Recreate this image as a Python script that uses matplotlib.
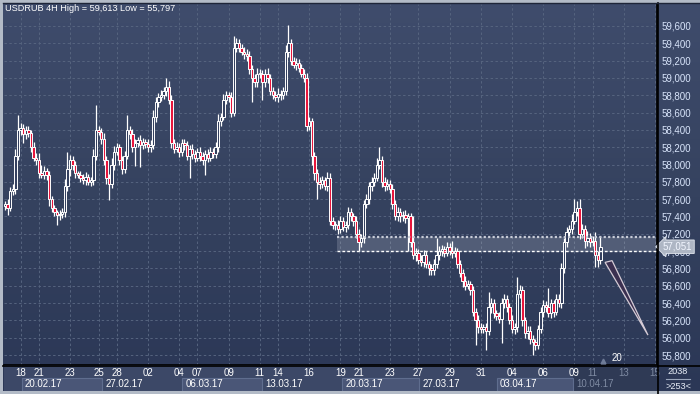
import numpy as np
import matplotlib.pyplot as plt
from matplotlib.patches import Rectangle, Polygon
from matplotlib.lines import Line2D
from matplotlib.colors import LinearSegmentedColormap
import matplotlib.transforms as mtransforms

# 4H closes, USDRUB (rubles), one per candle
closes = [
    57.55, 57.50, 57.70, 57.72, 58.10, 58.40, 58.42, 58.35, 58.40, 58.36,
    58.20, 58.08, 58.05, 57.90, 57.88, 57.92, 57.88, 57.60, 57.50, 57.45,
    57.42, 57.43, 57.45, 57.75, 57.95, 58.05, 58.00, 57.90, 57.88, 57.85,
    57.82, 57.86, 57.80, 57.82, 58.10, 58.40, 58.38, 58.30, 58.05, 57.85,
    57.78, 58.00, 58.15, 58.20, 58.05, 57.95, 58.10, 58.40, 58.35, 58.20,
    58.25, 58.28, 58.22, 58.26, 58.24, 58.20, 58.22, 58.55, 58.72, 58.78,
    58.80, 58.85, 58.90, 58.75, 58.25, 58.18, 58.20, 58.15, 58.25, 58.22,
    58.10, 58.18, 58.12, 58.08, 58.15, 58.10, 58.05, 58.12, 58.08, 58.15,
    58.12, 58.20, 58.50, 58.55, 58.75, 58.80, 58.78, 58.60, 59.35, 59.40,
    59.35, 59.30, 59.28, 59.25, 59.10, 59.00, 58.95, 59.05, 59.05, 58.95,
    59.05, 59.00, 58.85, 58.80, 58.78, 58.82, 58.80, 58.85, 59.30, 59.40,
    59.20, 59.15, 59.17, 59.12, 59.05, 59.00, 58.45, 58.50, 58.10, 57.90,
    57.80, 57.78, 57.82, 57.75, 57.85, 57.35, 57.30, 57.30, 57.25, 57.35,
    57.28, 57.30, 57.45, 57.40, 57.35, 57.20, 57.10, 57.15, 57.55, 57.60,
    57.75, 57.80, 57.85, 58.00, 58.05, 57.80, 57.75, 57.78, 57.72, 57.55,
    57.40, 57.45, 57.40, 57.42, 57.38, 57.40, 57.10, 56.95, 56.98, 56.90,
    56.88, 56.95, 56.85, 56.80, 56.78, 56.85, 56.95, 57.00, 57.02, 56.98,
    57.05, 57.00, 56.98, 57.00, 56.85, 56.75, 56.65, 56.60, 56.62, 56.55,
    56.30, 56.20, 56.12, 56.10, 56.12, 56.08, 56.35, 56.40, 56.28, 56.25,
    56.22, 56.40, 56.45, 56.35, 56.20, 56.10, 56.12, 56.50, 56.55, 56.20,
    56.05, 56.08, 55.98, 55.95, 55.92, 56.10, 56.30, 56.38, 56.35, 56.28,
    56.40, 56.30, 56.45, 56.40, 56.80, 57.10, 57.22, 57.25, 57.35, 57.45,
    57.50, 57.20, 57.25, 57.12, 57.15, 57.10, 57.12, 56.95, 56.90, 57.051,
]
first_open = 57.52

# wick lengths above / below the body, in kopecks
wick_up = [
    3, 5, 4, 6, 8, 17, 6, 5, 4, 5,
    4, 6, 5, 8, 10, 6, 4, 5, 4, 3,
    3, 4, 5, 8, 20, 6, 5, 4, 3, 5,
    4, 5, 3, 4, 8, 29, 5, 4, 6, 5,
    4, 8, 6, 5, 4, 5, 6, 17, 5, 6,
    5, 4, 6, 5, 4, 5, 6, 8, 6, 5,
    6, 5, 10, 6, 5, 4, 6, 5, 4, 5,
    5, 4, 6, 5, 4, 5, 4, 5, 6, 5,
    4, 6, 8, 5, 6, 5, 4, 6, 13, 6,
    5, 4, 6, 5, 6, 5, 4, 6, 5, 4,
    5, 6, 5, 4, 5, 6, 4, 5, 8, 21,
    5, 4, 6, 5, 4, 5, 6, 5, 4, 5,
    5, 6, 5, 4, 6, 5, 4, 5, 6, 5,
    4, 5, 6, 5, 4, 5, 6, 5, 4, 6,
    5, 6, 5, 8, 15, 5, 6, 5, 4, 5,
    4, 6, 5, 4, 5, 4, 4, 30, 6, 5,
    5, 6, 5, 4, 5, 6, 20, 6, 5, 4,
    5, 4, 12, 5, 4, 5, 4, 6, 5, 4,
    5, 4, 6, 5, 4, 5, 18, 6, 5, 4,
    5, 6, 5, 4, 5, 6, 5, 20, 6, 5,
    4, 5, 6, 5, 4, 5, 6, 5, 4, 22,
    5, 4, 6, 5, 6, 5, 6, 5, 8, 15,
    8, 10, 6, 5, 8, 6, 5, 10, 5, 12,
]
wick_dn = [
    5, 8, 4, 5, 6, 5, 6, 10, 5, 4,
    5, 4, 6, 5, 4, 5, 6, 8, 5, 4,
    12, 6, 5, 6, 5, 8, 6, 5, 4, 5,
    5, 6, 4, 5, 6, 5, 4, 6, 5, 8,
    19, 5, 6, 4, 5, 6, 5, 4, 6, 5,
    22, 5, 25, 4, 5, 6, 5, 4, 6, 5,
    5, 4, 6, 5, 6, 5, 4, 6, 5, 5,
    5, 25, 6, 5, 4, 6, 5, 17, 5, 4,
    5, 4, 6, 5, 4, 5, 6, 5, 4, 5,
    5, 4, 6, 5, 6, 28, 5, 6, 5, 20,
    5, 6, 5, 4, 5, 6, 5, 4, 5, 6,
    5, 4, 6, 5, 4, 5, 6, 5, 10, 8,
    20, 6, 5, 4, 6, 5, 4, 6, 5, 4,
    5, 6, 4, 5, 6, 5, 10, 5, 6, 5,
    5, 6, 5, 4, 5, 6, 5, 4, 5, 6,
    4, 5, 6, 5, 5, 38, 5, 4, 6, 5,
    5, 6, 5, 8, 6, 5, 4, 5, 6, 5,
    4, 5, 6, 5, 4, 5, 6, 5, 4, 6,
    5, 28, 6, 5, 4, 22, 5, 6, 5, 4,
    5, 28, 6, 5, 4, 5, 6, 5, 4, 6,
    5, 6, 5, 15, 6, 5, 4, 6, 5, 4,
    5, 6, 4, 5, 6, 5, 5, 6, 5, 4,
    5, 6, 5, 8, 6, 5, 4, 13, 8, 5,
]

price_ticks = [55.8, 56.0, 56.2, 56.4, 56.6, 56.8, 57.0, 57.2, 57.4, 57.6,
               57.8, 58.0, 58.2, 58.4, 58.6, 58.8, 59.0, 59.2, 59.4, 59.6]

day_ticks = [6, 13, 25, 36, 43, 55, 67, 74, 86, 98, 105, 117,
             129, 136, 148, 159, 171, 183, 195, 207, 219, 226, 238, 250]
day_labels = ['18', '21', '23', '25', '28', '02', '04', '07', '09', '11', '14', '16',
              '19', '21', '23', '27', '29', '31', '04', '06', '09', '11', '13', '15']
week_starts = [6.4, 37.2, 68, 98.7, 129.5, 159.2, 189.1, 218.6]
week_labels = ['20.02.17', '27.02.17', '06.03.17', '13.03.17',
               '20.03.17', '27.03.17', '03.04.17', '10.04.17']
week_boxed = [True, False, True, False, True, False, True, False]

# support zone and projection wedge
zone_start, zone_low, zone_high = 127.7, 57.0, 57.16
wedge = [(230.8, 56.87), (233.5, 56.89), (247.3, 56.03)]
last_price = 57.051
future_start = 218.6

X0, X1 = -0.385, 250.77
Y0, Y1 = 55.685, 59.854
W, H = 700, 394
FS = 7

opens = np.array([first_open] + closes[:-1])
closes = np.array(closes)
highs = np.maximum(opens, closes) + np.array(wick_up) / 100
lows = np.minimum(opens, closes) - np.array(wick_dn) / 100
idx = np.arange(len(closes))

plt.rcParams['font.family'] = ['Liberation Sans', 'DejaVu Sans']
fig = plt.figure(figsize=(W / 100, H / 100), dpi=100, facecolor='#b3bbc7')

def fx(px):
    return px / W

def fy(py):
    return 1 - py / H

# background gradient
bg = fig.add_axes([fx(3), fy(391), fx(697), 388 / H])
cmap = LinearSegmentedColormap.from_list('bg', ['#2b3756', '#35425f', '#3f4c6c'])
bg.imshow(np.linspace(0, 1, 256).reshape(-1, 1), cmap=cmap, aspect='auto',
          extent=[0, 1, 0, 1], origin='lower')
bg.axis('off')

ax = fig.add_axes([fx(4), fy(365), fx(653), 361 / H])
ax.set_facecolor('none')
ax.set_xlim(X0, X1)
ax.set_ylim(Y0, Y1)

ax.set_yticks(price_ticks)
ax.set_yticklabels([f'{v:.3f}'.replace('.', ',') for v in price_ticks])
ax.set_xticks(day_ticks)
ax.set_xticklabels([])
ax.yaxis.tick_right()
ax.tick_params(axis='y', length=0, pad=3, labelsize=FS, labelcolor='#d8e4fa')
ax.tick_params(axis='x', length=0)
ax.grid(True, color='#56647f', ls=(0, (2.5, 2.5)), lw=0.7)
ax.set_axisbelow(True)
for s in ['top', 'left']:
    ax.spines[s].set_visible(False)
for s in ['right', 'bottom']:
    ax.spines[s].set_color('black')
    ax.spines[s].set_linewidth(1.2)

# zone
ax.add_patch(Rectangle((zone_start, zone_low), X1 - zone_start, zone_high - zone_low,
                       facecolor='#c8ccd8', alpha=0.22, lw=0, zorder=2))
ax.hlines(zone_high, zone_start, X1, colors='#c8ccd8', linestyles=(0, (1, 1)), lw=1.6, zorder=5)
ax.hlines(zone_low, zone_start, X1, colors='white', linestyles=(0, (2, 1.5)), lw=1.0, zorder=5)

# candles
ax.vlines(idx, lows, highs, color='white', lw=0.9, zorder=3)
up = closes >= opens
body_h = np.maximum(np.abs(closes - opens), 0.012)
ax.bar(idx, body_h, bottom=np.minimum(opens, closes), width=0.85,
       color=np.where(up, '#34405f', '#e8163c'), edgecolor='white', lw=0.7, zorder=4)

# projection wedge
ax.add_patch(Polygon(wedge, closed=True, facecolor='#3b3050', edgecolor='#d6ccd6',
                     lw=0.9, zorder=6))

ax.plot([230], [55.73], marker='^', ms=3.5, color='#6f7c98', zorder=6)
ax.text(233.2, 55.77, '20', color='white', fontsize=FS, va='center', ha='left', zorder=6)

# last price marker
tr = mtransforms.blended_transform_factory(ax.transAxes, ax.transData)
ax.text(1 + 6 / 653, last_price, '57,051', transform=tr, ha='left', va='center',
        fontsize=FS, color='#f2f6ff', zorder=10, clip_on=False,
        bbox=dict(boxstyle='larrow,pad=0.18', fc='#aeb6c4', ec='#e2e6ee', lw=0.6))

# date strip
ad = fig.add_axes([fx(4), fy(391), fx(653), 26 / H])
ad.set_xlim(X0, X1)
ad.set_ylim(0, 1)
ad.axis('off')
ad.add_patch(Rectangle((X0, 0), X1 - X0, 1, facecolor='#3c4867', lw=0, zorder=0))
ad.add_patch(Rectangle((future_start, 0), X1 - future_start, 1, facecolor='#2f3a55', lw=0, zorder=1))
ends = week_starts[1:] + [X1]
for s, e, lab, boxed in zip(week_starts, ends, week_labels, week_boxed):
    dim = s >= future_start
    if boxed:
        ad.add_patch(Rectangle((s, 0), e - s, 0.5, facecolor='#4a5677',
                               edgecolor='#5f6d8e', lw=0.8, zorder=2))
    ad.text(s + 1.3, 0.26, lab, color='#7e8aa2' if dim else 'white',
            fontsize=FS, va='center', ha='left', zorder=3)
for t, lab in zip(day_ticks, day_labels):
    dim = t > future_start + 1
    ad.text(t, 0.7, lab, color='#7e8aa2' if dim else 'white',
            fontsize=FS, va='center', ha='center', zorder=3)

# frame lines
fig.add_artist(Line2D([fx(657.5), fx(657.5)], [fy(394), fy(3)], color='black', lw=1.2))
fig.add_artist(Line2D([fx(3), 1], [fy(365.5), fy(365.5)], color='black', lw=1.2))
fig.add_artist(Line2D([fx(3), 1], [fy(2.5), fy(2.5)], color='#1e2538', lw=1))

fig.text(fx(5), fy(4), 'USDRUB 4H High = 59,613 Low = 55,797', color='white',
         fontsize=6.6, va='top', ha='left')

fig.text(fx(678), fy(372), '2038', color='#e8eef8', fontsize=6.6, ha='center', va='center')
fig.add_artist(Line2D([fx(666), fx(690)], [fy(379), fy(379)], color='#9aa6bc', lw=0.8))
fig.text(fx(678), fy(386.5), '>253<', color='#e8eef8', fontsize=6.6, ha='center', va='center')

fig.savefig('out.png', dpi=100, facecolor=fig.get_facecolor())
